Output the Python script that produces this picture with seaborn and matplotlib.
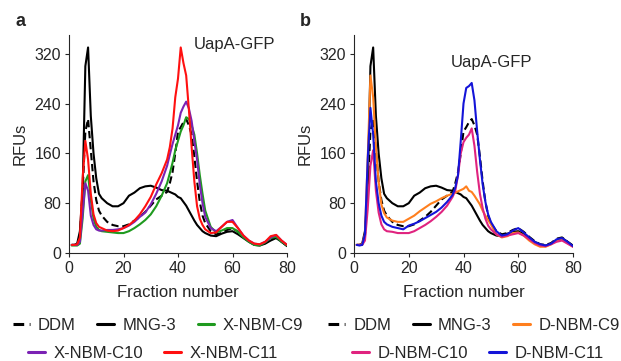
import numpy as np
import pandas as pd
import matplotlib
matplotlib.use("Agg")
import matplotlib.pyplot as plt
from matplotlib.lines import Line2D
import seaborn as sns

# ---------------- data ----------------
fractions = [1, 2, 3, 4, 5, 6, 7, 8, 9, 10, 11, 12,
             14, 16, 18, 20, 22, 24, 26, 28, 30, 32, 34, 36,
             37, 38, 39, 40, 41, 42, 43, 44, 45, 46, 47, 48, 49, 50,
             52, 54, 56, 58, 60, 62, 64, 66, 68, 70, 72, 74, 76, 78, 80]

ddm = [13, 13, 14, 28, 100, 195, 215, 165, 115, 85, 68, 60,
       50, 45, 43, 43, 46, 52, 58, 66, 76, 86, 92, 98,
       112, 130, 160, 195, 202, 210, 215, 205, 190, 155, 115, 82, 60, 48,
       35, 30, 32, 37, 40, 34, 26, 19, 14, 13, 16, 23, 25, 18, 12]

mng3 = [13, 13, 15, 35, 100, 300, 330, 220, 160, 120, 95, 88,
        80, 75, 75, 80, 92, 97, 104, 107, 108, 105, 101, 100,
        98, 96, 94, 90, 88, 82, 76, 68, 60, 52, 45, 40, 35, 32,
        28, 27, 31, 34, 35, 30, 24, 18, 13, 12, 15, 20, 24, 18, 11]

x_c9 = [12, 12, 12, 15, 55, 115, 125, 85, 55, 42, 37, 35,
        34, 33, 32, 32, 35, 40, 46, 53, 62, 75, 92, 112,
        128, 145, 165, 180, 195, 205, 218, 215, 205, 190, 160, 125, 95, 68,
        42, 33, 36, 40, 40, 34, 25, 18, 13, 12, 17, 24, 26, 18, 12]

x_c10 = [13, 13, 13, 18, 65, 112, 100, 60, 45, 38, 36, 36,
         37, 37, 38, 40, 44, 50, 58, 65, 78, 95, 115, 140,
         158, 175, 190, 205, 225, 235, 243, 232, 212, 180, 150, 110, 80, 58,
         40, 35, 42, 50, 53, 40, 28, 20, 15, 14, 18, 25, 29, 20, 13]

x_c11 = [13, 13, 14, 25, 120, 180, 150, 95, 62, 48, 42, 40,
         36, 35, 36, 40, 45, 52, 62, 75, 90, 110, 128, 150,
         170, 200, 250, 280, 330, 305, 285, 230, 170, 115, 75, 55, 45, 38,
         32, 33, 42, 50, 50, 40, 28, 20, 15, 14, 18, 27, 29, 20, 13]

d_c9 = [13, 13, 14, 30, 150, 285, 250, 170, 115, 78, 64, 57,
        52, 50, 50, 55, 60, 67, 73, 79, 83, 88, 92, 95,
        97, 99, 101, 103, 107, 100, 98, 92, 85, 78, 68, 60, 53, 46,
        30, 25, 27, 32, 33, 28, 20, 14, 10, 10, 14, 20, 22, 16, 10]

d_c10 = [13, 13, 13, 20, 70, 140, 165, 100, 65, 46, 38, 35,
         34, 32, 32, 32, 35, 40, 45, 51, 58, 66, 76, 90,
         100, 125, 160, 178, 185, 190, 200, 172, 130, 95, 72, 55, 44, 38,
         30, 26, 28, 30, 32, 28, 22, 16, 12, 11, 14, 18, 20, 15, 10]

d_c11 = [13, 12, 13, 30, 150, 233, 190, 115, 80, 60, 50, 46,
         42, 40, 38, 44, 47, 51, 56, 61, 66, 73, 82, 93,
         105, 125, 180, 240, 265, 268, 273, 245, 195, 150, 110, 82, 62, 50,
         35, 28, 30, 36, 40, 33, 25, 18, 14, 12, 15, 22, 24, 18, 11]

x_ticks = [0, 20, 40, 60, 80]
y_ticks = [0, 80, 160, 240, 320]
panel_a_names = ["DDM", "MNG-3", "X-NBM-C9", "X-NBM-C10", "X-NBM-C11"]
panel_b_names = ["DDM", "MNG-3", "D-NBM-C9", "D-NBM-C10", "D-NBM-C11"]
panel_a_values = [ddm, mng3, x_c9, x_c10, x_c11]
panel_b_values = [ddm, mng3, d_c9, d_c10, d_c11]

# ---------------- styling ----------------
sns.set_style("ticks")
plt.rcParams["font.family"] = ["Liberation Sans", "DejaVu Sans"]

colors_a = ["black", "black", "#1f9a1f", "#7b22b4", "#ff1010"]
colors_b = ["black", "black", "#ff7f1e", "#e0237f", "#1414d8"]
styles = [(0, (3.5, 1.8)), "-", "-", "-", "-"]

W, H = 621, 361
fig = plt.figure(figsize=(W / 100, H / 100), dpi=100)
ax_a = fig.add_axes([69 / W, 1 - 253 / H, 218 / W, 218 / H])
ax_b = fig.add_axes([354 / W, 1 - 253 / H, 219 / W, 218 / H])


def draw(ax, names, values, colors):
    handles = []
    for name, vals, col, ls in zip(names, values, colors, styles):
        df = pd.DataFrame({"Fraction": fractions, "RFU": vals})
        sns.lineplot(data=df, x="Fraction", y="RFU", ax=ax, color=col,
                     linestyle=ls, linewidth=1.5, legend=False)
        handles.append(Line2D([], [], color=col, linestyle=ls, linewidth=2.2, label=name))
    ax.set_xlim(0, 80)
    ax.set_ylim(0, 350)
    ax.set_xticks(x_ticks)
    ax.set_yticks(y_ticks)
    ax.tick_params(labelsize=11.5, length=3, width=0.8, pad=2.5)
    ax.set_xlabel("Fraction number", fontsize=12, labelpad=7)
    ax.set_ylabel("RFUs", fontsize=12, labelpad=5)
    sns.despine(ax=ax)
    for s in ("left", "bottom"):
        ax.spines[s].set_linewidth(0.8)
    return handles


ha = draw(ax_a, panel_a_names, panel_a_values, colors_a)
hb = draw(ax_b, panel_b_names, panel_b_values, colors_b)

ax_a.text(0.76, 0.955, "UapA-GFP", transform=ax_a.transAxes, ha="center", va="center", fontsize=12)
ax_b.text(0.626, 0.876, "UapA-GFP", transform=ax_b.transAxes, ha="center", va="center", fontsize=12)

fig.text(21 / W, 1 - 22 / H, "a", fontsize=13, fontweight="bold", ha="center", va="center")
fig.text(305 / W, 1 - 22 / H, "b", fontsize=13, fontweight="bold", ha="center", va="center")

leg_kw = dict(frameon=False, fontsize=12, handlelength=1.0, handletextpad=0.5,
              columnspacing=1.3, borderaxespad=0, borderpad=0)
for hs, cx1, cx2 in ((ha, 158, 153), (hb, 474, 478)):
    fig.legend(handles=hs[:3], ncol=3, loc="center", bbox_to_anchor=(cx1 / W, 1 - 325 / H), **leg_kw)
    fig.legend(handles=hs[3:], ncol=2, loc="center", bbox_to_anchor=(cx2 / W, 1 - 353 / H), **leg_kw)

fig.savefig("out.png", dpi=100)
